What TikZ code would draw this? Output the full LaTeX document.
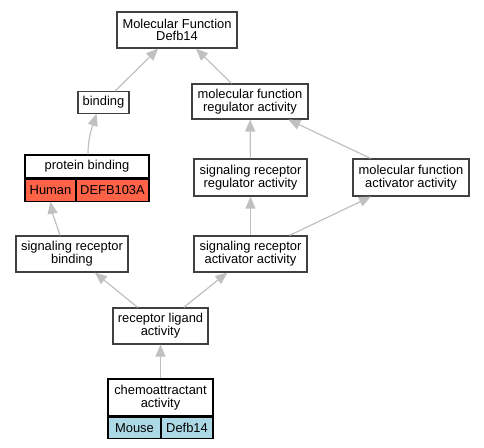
\documentclass[tikz,border=0pt]{standalone}
\usepackage{fontspec}
\setmainfont{Liberation Sans}
\usetikzlibrary{arrows.meta}
\definecolor{boxline}{HTML}{404040}
\definecolor{edgegray}{HTML}{C0C0C0}
\definecolor{humanred}{HTML}{FF6347}
\definecolor{mouseblue}{HTML}{ADD8E6}
\tikzset{
  term/.style={draw=boxline, line width=1.2bp, fill=white, inner sep=0pt, align=center,
    font=\fontsize{12.9bp}{12.7bp}\selectfont},
  cell/.style={draw=black, line width=1.2bp, inner sep=0pt, minimum height=22bp,
    font=\fontsize{12.9bp}{12.7bp}\selectfont},
  link/.style={draw=edgegray, line width=1.2bp, -{Triangle[length=12bp,width=10bp]}}
}
\begin{document}
\begin{tikzpicture}[x=1bp, y=-1bp]
                \useasboundingbox (0, 0) rectangle (484, 448);
                % Terms
                \node [term, minimum width=120bp, minimum height=36bp] (mf) at (177, 30) {Molecular Function\\Defb14};
                \node [term, minimum width=51bp, minimum height=21.5bp] (bind) at (103.5, 102.5) {binding};
                \node [term, minimum width=116bp, minimum height=35bp] (mfreg) at (250, 101.5) {molecular function\\regulator activity};
                \node [term, minimum width=113bp, minimum height=37bp] (srreg) at (250.5, 177.5) {signaling receptor\\regulator activity};
                \node [term, minimum width=116bp, minimum height=37bp] (mfact) at (411, 177.5) {molecular function\\activator activity};
                \node [term, minimum width=112bp, minimum height=36bp] (srbind) at (72, 254) {signaling receptor\\binding};
                \node [term, minimum width=113bp, minimum height=36bp] (sract) at (250.5, 254) {signaling receptor\\activator activity};
                \node [term, minimum width=95bp, minimum height=36bp] (ligand) at (160.5, 326) {receptor ligand\\activity};
                % Annotated terms
                \node [term, draw=black, minimum width=124bp, minimum height=23bp] (pbind) at (87, 166.5) {protein binding};
                \node [cell, fill=humanred, anchor=north west, minimum width=51bp] (pbhuman) at (pbind.south west) {Human};
                \node [cell, fill=humanred, anchor=north east, minimum width=73bp] (pbgene) at (pbind.south east) {DEFB103A};
                \node [term, draw=black, minimum width=105bp, minimum height=37bp] (chemo) at (160.5, 397.5) {chemoattractant\\activity};
                \node [cell, fill=mouseblue, anchor=north west, minimum width=53bp, minimum height=21bp] (chmouse) at (chemo.south west) {Mouse};
                \node [cell, fill=mouseblue, anchor=north east, minimum width=52bp, minimum height=21bp] (chgene) at (chemo.south east) {Defb14};
                % Edges
                \draw [link] (bind) -- (mf);
                \draw [link] (mfreg) -- (mf);
                \draw [link] ([xshift=1bp]pbind.north) to [out=90, in=-108] ([xshift=-7bp]bind.south);
                \draw [link] (srreg) -- (mfreg);
                \draw [link] (mfact) -- (mfreg);
                \draw [link] ([xshift=-12bp]srbind.north) to [out=108, in=-80] (pbhuman.south);
                \draw [link] (sract) -- (srreg);
                \draw [link] (sract) -- (mfact);
                \draw [link] (ligand) -- (srbind);
                \draw [link] (ligand) -- (sract);
                \draw [link] (chemo) -- (ligand);
\end{tikzpicture}
\end{document}
